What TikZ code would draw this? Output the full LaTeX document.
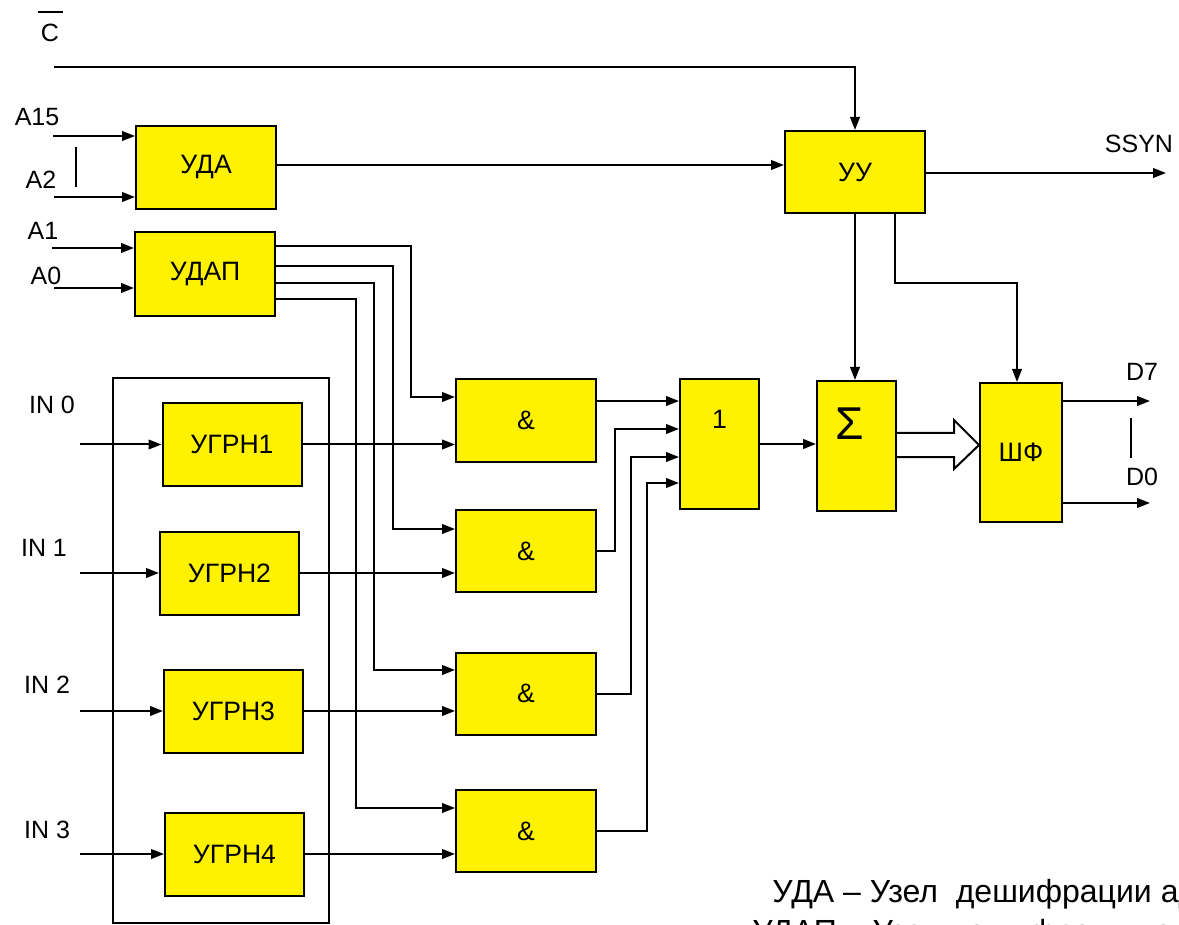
\documentclass[tikz,border=0pt]{standalone}
\usepackage{fontspec}
\setmainfont{Liberation Sans}
\usetikzlibrary{arrows.meta}

\tikzset{
  blk/.style={draw, fill=yellow, line width=1pt, inner sep=0pt, font=\fontsize{13.3}{16}\selectfont},
  arr/.style={-{Triangle[length=6.5pt,width=4.8pt]}, line width=1pt},
  lbl/.style={inner sep=0pt, font=\fontsize{12.5}{15}\selectfont},
}

\begin{document}
\begin{tikzpicture}[x=0.5pt, y=-0.5pt]
\useasboundingbox (0,0) rectangle (1179,925);
\clip (0,0) rectangle (1179,925);

% main blocks
\node[blk, minimum width=70pt, minimum height=41.5pt] (uda) at (206,167.5) {УДА};
\node[blk, minimum width=70pt, minimum height=42pt] (udap) at (205,274) {УДАП};
\node[blk, minimum width=70pt, minimum height=41pt] (uu) at (855,172) {УУ};
\node[blk, minimum width=39.5pt, minimum height=65pt, label={[font=\fontsize{13.3}{16}\selectfont, yshift=12.5pt]center:1}] (or1) at (719.5,444) {};
\node[blk, minimum width=39.5pt, minimum height=65pt] (sum) at (856.5,446) {};
\node[font=\fontsize{23}{26}\selectfont, inner sep=0pt] (sigma) at (850,424) {Σ};
\node[blk, minimum width=41pt, minimum height=69.5pt] (shf) at (1021,452.5) {ШФ};

% receiver group
\draw[line width=0.8pt] (113,378) rectangle (329,923);

\foreach \i/\xg/\yg/\ya/\xl/\yl in {1/232/444.5/420.5/52/405, 2/229.5/573/551/44/548, 3/233.5/711/693.5/47/685, 4/234.5/854/831/47/830} {
  \pgfmathtruncatemacro\k{\i-1}
  \node[blk, minimum width=69.5pt, minimum height=41.5pt] (ugrn\i) at (\xg,\yg) {УГРН\i};
  \node[blk, minimum width=70pt, minimum height=41pt] (and\i) at (526,\ya) {\&};
  \node[lbl] (in\i) at (\xl,\yl) {IN \k};
  \coordinate (inp\i) at (80,\yg);
  \draw[arr] (inp\i) -- (ugrn\i.west);
  \draw[arr] (ugrn\i.east) -- (and\i.west |- ugrn\i.east);
}

% address inputs
\node[lbl] (cbar) at (50,33) {C};
\draw[line width=0.9pt] (38,12) -- (63,12);
\node[lbl] (a15) at (37,117) {A15};
\node[lbl] (a2) at (41,180) {A2};
\node[lbl] (a1) at (43,231) {A1};
\node[lbl] (a0) at (46,276) {A0};
\coordinate (cin) at (54,67);
\coordinate (a15in) at (53,136);
\coordinate (a2in) at (54,197);
\coordinate (a1in) at (52,248);
\coordinate (a0in) at (54,288);
\draw[arr] (cin) -| (uu.north);
\draw[arr] (a15in) -- (a15in -| uda.west);
\draw[arr] (a2in) -- (a2in -| uda.west);
\draw[arr] (a1in) -- (a1in -| udap.west);
\draw[arr] (a0in) -- (a0in -| udap.west);
\draw[line width=0.8pt] (76,147) -- (76,187);

\draw[arr] (uda.east |- 0,165) -- (uu.west |- 0,165);

% decoder lines to the gates
\foreach \i/\yo/\xv/\yi in {1/246/411/397, 2/266/393/529, 3/283/374/670, 4/299/356/808}
  \draw[arr] (udap.east |- 0,\yo) -- (\xv,\yo) |- (and\i.west |- 0,\yi);

% gates to OR
\draw[arr] (and1.east |- 0,401) -- (or1.west |- 0,401);
\foreach \i/\xv/\yi in {2/615/429, 3/631/457, 4/647/483}
  \draw[arr] (and\i.east) -- (\xv,0 |- and\i.east) |- (or1.west |- 0,\yi);

\draw[arr] (or1.east) -- (sum.west |- or1.east);
\draw[arr] (uu.south) -- (uu.south |- sum.north);
\draw[arr] (uu.south -| 895,0) |- (1017,283) -- (1017,0 |- shf.north);

% SSYN
\node[lbl] (ssyn) at (1139,144) {SSYN};
\coordinate (ssynout) at (1166,173);
\draw[arr] (uu.east |- ssynout) -- (ssynout);

% bus arrow
\draw[line width=1pt, fill=white] (sum.east |- 0,433) -- (954,433) -- (954,420) -- (shf.west |- 0,445) -- (954,469) -- (954,457) -- (sum.east |- 0,457);

% data outputs
\node[lbl] (d7) at (1142,372) {D7};
\node[lbl] (d0) at (1142,477) {D0};
\coordinate (d7out) at (1150,401);
\coordinate (d0out) at (1150,503);
\draw[arr] (shf.east |- d7out) -- (d7out);
\draw[arr] (shf.east |- d0out) -- (d0out);
\draw[line width=0.8pt] (1131,418) -- (1131,458);

% legend
\node[anchor=base west, inner sep=0pt, font=\fontsize{16}{19}\selectfont] (leg1) at (772,902) {УДА – Узел\ \ дешифрации адреса};
\node[anchor=base west, inner sep=0pt, font=\fontsize{16}{19}\selectfont] (leg2) at (752,942) {УДАП – Узел дешифрации адреса};
\end{tikzpicture}
\end{document}
